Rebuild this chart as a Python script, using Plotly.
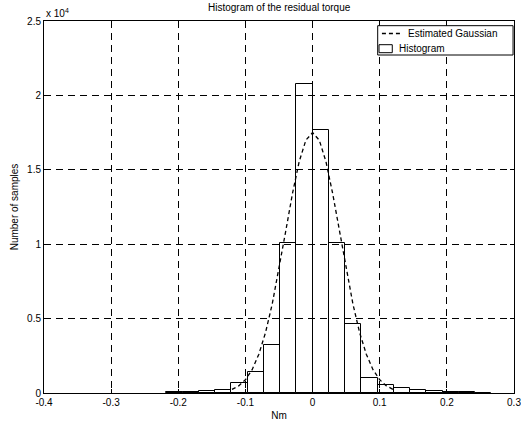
import plotly.graph_objects as go

# ---- data ----
bin_width = 0.0242
# bin index k means the bin [k*w, (k+1)*w]
bin_index = [-9, -8, -7, -6, -5, -4, -3, -2, -1, 0, 1, 2, 3, 4, 5, 6, 7, 8, 9, 10]
counts = [50, 90, 130, 220, 650, 1430, 3240, 10050, 20800, 17650,
          10050, 4610, 1030, 520, 310, 200, 110, 60, 40, 30]

gauss_x = [-0.12, -0.11, -0.10, -0.09, -0.08, -0.07, -0.06, -0.05, -0.04, -0.03,
           -0.02, -0.01, 0.0, 0.01, 0.02, 0.03, 0.04, 0.05, 0.06, 0.07,
           0.08, 0.09, 0.10, 0.11, 0.12]
gauss_y = [240, 480, 890, 1570, 2610, 4070, 6000, 8320, 10870, 13390,
           15540, 16990, 17500, 16990, 15540, 13390, 10870, 8320, 6000, 4070,
           2610, 1570, 890, 480, 240]

x_ticks = [-0.4, -0.3, -0.2, -0.1, 0, 0.1, 0.2, 0.3]
x_tick_text = ["-0.4", "-0.3", "-0.2", "-0.1", "0", "0.1", "0.2", "0.3"]
y_ticks = [0, 5000, 10000, 15000, 20000, 25000]
y_tick_text = ["0", "0.5", "1", "1.5", "2", "2.5"]
legend_labels = ["Estimated Gaussian", "Histogram"]

FONT = "Liberation Sans, Arial, sans-serif"

bin_centers = [(k + 0.5) * bin_width for k in bin_index]

fig = go.Figure()
fig.add_trace(go.Bar(
    x=bin_centers, y=counts, width=bin_width,
    marker=dict(color="rgba(255,255,255,0)", line=dict(color="black", width=1)),
    name=legend_labels[1], showlegend=False,
))
fig.add_trace(go.Scatter(
    x=gauss_x, y=gauss_y, mode="lines",
    line=dict(color="black", width=1.3, dash="4px,3px"),
    name=legend_labels[0], showlegend=False,
))

axis_common = dict(
    showline=True, linecolor="black", linewidth=1, mirror="ticks",
    ticks="inside", ticklen=4, tickcolor="black",
    showgrid=True, gridcolor="black", gridwidth=1, griddash="7px,5px",
    zeroline=False, automargin=False, ticklabeloverflow="allow",
    tickfont=dict(family=FONT, size=10, color="black"),
)

# hand-drawn legend box (MATLAB-like)
shapes = [
    dict(type="rect", xref="paper", yref="paper", x0=0.710, x1=0.998, y0=0.9086, y1=0.9874,
         line=dict(color="black", width=1), fillcolor="white", layer="above"),
    dict(type="line", xref="paper", yref="paper", x0=0.719, x1=0.7596, y0=0.9664, y1=0.9664,
         line=dict(color="black", width=1.3, dash="4px,3px"), layer="above"),
    dict(type="rect", xref="paper", yref="paper", x0=0.7128, x1=0.741, y0=0.9148, y1=0.9363,
         line=dict(color="black", width=1), fillcolor="white", layer="above"),
]

fig.update_layout(
    width=521, height=423,
    margin=dict(l=44, r=7, t=21, b=30),
    paper_bgcolor="white", plot_bgcolor="white",
    font=dict(family=FONT, size=10, color="black"),
    bargap=0,
    showlegend=False,
    xaxis=dict(range=[-0.4, 0.3], tickvals=x_ticks, ticktext=x_tick_text,
               title=dict(text="Nm", font=dict(family=FONT, size=10), standoff=4),
               **axis_common),
    yaxis=dict(range=[0, 25000], tickvals=y_ticks, ticktext=y_tick_text,
               title=dict(text="Number of samples", font=dict(family=FONT, size=10), standoff=6),
               **axis_common),
    shapes=shapes,
    annotations=[
        dict(text="Histogram of the residual torque", xref="paper", yref="paper",
             x=0.5, y=1.035, xanchor="center", yanchor="middle", showarrow=False,
             font=dict(family=FONT, size=10, color="black")),
        dict(text="x 10<sup>4</sup>", xref="paper", yref="paper",
             x=0.0, y=1.0, xanchor="left", yanchor="bottom", showarrow=False,
             font=dict(family=FONT, size=10, color="black")),
        dict(text=legend_labels[0], xref="paper", yref="paper",
             x=0.770, y=0.9664, xanchor="left", yanchor="middle", showarrow=False,
             font=dict(family=FONT, size=10, color="black")),
        dict(text=legend_labels[1], xref="paper", yref="paper",
             x=0.752, y=0.926, xanchor="left", yanchor="middle", showarrow=False,
             font=dict(family=FONT, size=10, color="black")),
    ],
)

fig.write_html("out.html")
